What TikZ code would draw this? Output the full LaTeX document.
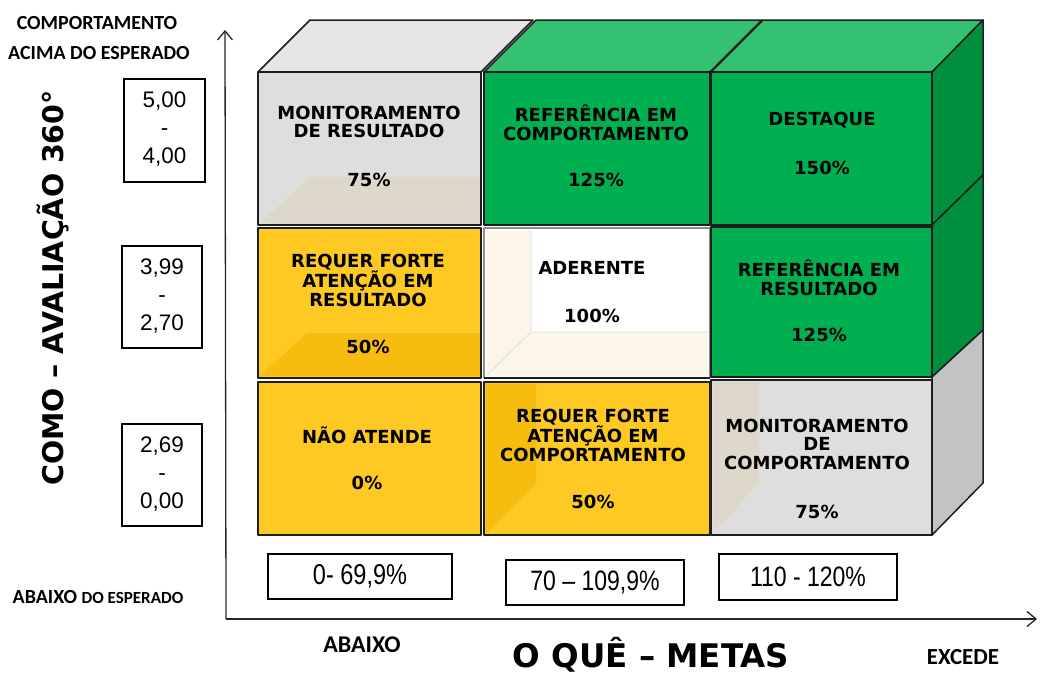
\documentclass[tikz,border=0pt]{standalone}
\usepackage{fontspec}
\setmainfont{DejaVu Sans}
\newfontfamily\dvs{DejaVu Sans}
\newfontfamily\crl{Carlito}
\newfontfamily\lib{Liberation Sans}
\usetikzlibrary{arrows.meta}
\definecolor{gfront}{HTML}{00B050}
\definecolor{gtop}{HTML}{35C172}
\definecolor{gside}{HTML}{008F3E}
\definecolor{yfront}{HTML}{FDC922}
\definecolor{yin}{HTML}{F7BD0E}
\definecolor{sfront}{HTML}{DEDEDE}
\definecolor{stop}{HTML}{E6E6E6}
\definecolor{sside}{HTML}{C2C2C2}
\definecolor{sin}{HTML}{DED8CB}
\definecolor{wfront}{HTML}{FFFFFF}
\definecolor{win}{HTML}{FBF5EA}
\definecolor{edgec}{HTML}{1E1E1E}
\begin{document}
\begin{tikzpicture}[x=1pt,y=-1pt,
  face/.style={draw=edgec, line width=1.5pt, line join=round},
  lightface/.style={draw=black!45, line width=1.4pt, line join=round},
  celltxt/.style={font=\dvs\bfseries\fontsize{18}{18.5}\selectfont, align=center, text=black, inner sep=0pt},
  boxnum/.style={draw=black, line width=1.1pt, inner sep=0pt},
  numtxt/.style={font=\lib\fontsize{22.5}{28}\selectfont, align=center, inner sep=0pt},
  axislbl/.style={font=\crl\bfseries\fontsize{20}{21}\selectfont, inner sep=0pt},
  axis/.style={draw=black!85, line width=1.3pt, -{Straight Barb[length=9pt,width=15pt]}}
]
\useasboundingbox (0,0) rectangle (1040,675);

% ---- top faces
\draw[face, fill=stop] (258,72) -- (310,20) -- (533,20) -- (481,72) -- cycle;
\draw[face, fill=gtop] (484,72) -- (536,20) -- (762,20) -- (710,72) -- cycle;
\draw[face, fill=gtop] (711,72) -- (763,20) -- (983,20) -- (932,72) -- cycle;
% ---- right faces
\draw[face, fill=gside] (932,72) -- (983,20) -- (983,175) -- (932,225) -- cycle;
\draw[face, fill=gside] (932,225) -- (983,175) -- (983,330) -- (932,377) -- cycle;
\draw[face, fill=sside] (932,377) -- (983,330) -- (983,483) -- (932,535) -- cycle;

% ---- row 1
\fill[sfront] (258,72) rectangle (481,225);
\fill[sin] (260,223) -- (310,177) -- (480,177) -- (480,223) -- cycle;
\draw[face] (258,72) rectangle (481,225);
\draw[face, fill=gfront] (484,72) rectangle (710,225);
\draw[face, fill=gfront] (711,72) rectangle (932,225);
% ---- row 2
\fill[yfront] (258,228) rectangle (481,378);
\fill[yin] (260,376) -- (307,333) -- (480,333) -- (480,376) -- cycle;
\draw[face] (258,228) rectangle (481,378);
\fill[wfront] (484,228) rectangle (710,378);
\fill[win] (486,230) -- (531,230) -- (531,332) -- (486,376) -- cycle;
\fill[win] (486,376) -- (531,332) -- (708,332) -- (708,376) -- cycle;
\draw[black!12, line width=0.8pt] (531,230) -- (531,332) -- (708,332) (531,332) -- (487,375);
\draw[lightface] (484,378) -- (484,228) -- (710,228) -- (710,378);
\draw[face] (484,378) -- (710,378);
\draw[face, fill=gfront] (711,227) rectangle (932,377);
% ---- row 3
\draw[face, fill=yfront] (258,382) rectangle (481,535);
\fill[yfront] (484,382) rectangle (710,535);
\fill[yin] (486,384) -- (536,384) -- (536,483) -- (486,533) -- cycle;
\draw[face] (484,382) rectangle (710,535);
\fill[sfront] (711,380) rectangle (932,535);
\fill[sin] (713,382) -- (759,382) -- (759,483) -- (713,533) -- cycle;
\draw[face] (711,380) rectangle (932,535);

% ---- cell texts
\node[celltxt] (c11) at (369,122) {MONITORAMENTO\\DE RESULTADO};
\node[celltxt] (p11) at (369,180) {75\%};
\node[celltxt] (c12) at (596,123) {REFERÊNCIA EM\\COMPORTAMENTO};
\node[celltxt] (p12) at (596,180) {125\%};
\node[celltxt] (c13) at (822,120) {DESTAQUE};
\node[celltxt] (p13) at (822,168) {150\%};
\node[celltxt] (c21) at (368,280) {REQUER FORTE\\ATENÇÃO EM\\RESULTADO};
\node[celltxt] (p21) at (368,347) {50\%};
\node[celltxt] (c22) at (592,268) {ADERENTE};
\node[celltxt] (p22) at (592,316) {100\%};
\node[celltxt] (c23) at (819,278) {REFERÊNCIA EM\\RESULTADO};
\node[celltxt] (p23) at (819,335) {125\%};
\node[celltxt] (c31) at (367,435) {NÃO ATENDE};
\node[celltxt] (p31) at (367,483) {0\%};
\node[celltxt] (c32) at (593,435) {REQUER FORTE\\ATENÇÃO EM\\COMPORTAMENTO};
\node[celltxt] (p32) at (593,502) {50\%};
\node[celltxt] (c33) at (817,444) {MONITORAMENTO\\DE\\COMPORTAMENTO};
\node[celltxt] (p33) at (817,512) {75\%};

% ---- axes
\coordinate (origin) at (226,619);
\coordinate (ytip) at (225,30);
\coordinate (xtip) at (1037,619);
\draw[axis] (origin) -- (ytip);
\draw[axis] (origin) -- (xtip);

% ---- left value boxes
\node[boxnum, minimum width=81pt, minimum height=103pt] (v1) at (164.5,130.5) {};
\node[numtxt] (t1) at (164.5,129) {5,00\\-\\4,00};
\node[boxnum, minimum width=80pt, minimum height=102pt] (v2) at (162,297) {};
\node[numtxt] (t2) at (162,296) {3,99\\-\\2,70};
\node[boxnum, minimum width=80pt, minimum height=102pt] (v3) at (162,475) {};
\node[numtxt] (t3) at (162,474) {2,69\\-\\0,00};

% ---- bottom value boxes
\node[boxnum, minimum width=184pt, minimum height=45pt] (b1) at (360,576.5) {\lib\fontsize{23.5}{26}\selectfont\scalebox{1}[1.22]{0- 69,9\%}};
\node[boxnum, minimum width=178pt, minimum height=45pt] (b2) at (595,582.5) {\lib\fontsize{23}{26}\selectfont\scalebox{1}[1.22]{70 – 109,9\%}};
\node[boxnum, minimum width=178pt, minimum height=46pt] (b3) at (808,577) {\lib\fontsize{23}{26}\selectfont\scalebox{1}[1.22]{110 - 120\%}};

% ---- axis labels
\node[axislbl] (l1) at (97,23) {COMPORTAMENTO};
\node[axislbl] (l2) at (99,53) {ACIMA DO ESPERADO};
\node[axislbl] (l3) at (98,597) {ABAIXO {\fontsize{17}{18}\selectfont DO ESPERADO}};
\node[font=\crl\bfseries\fontsize{24}{26}\selectfont, inner sep=0pt] (l4) at (362,645) {ABAIXO};
\node[font=\crl\bfseries\fontsize{23}{26}\selectfont, inner sep=0pt] (l5) at (963,657) {EXCEDE};
\node[font=\dvs\bfseries\fontsize{32.5}{34}\selectfont, inner sep=0pt] (l6) at (651,655) {O QUÊ – METAS};
\node[font=\dvs\bfseries\fontsize{28.5}{30}\selectfont, inner sep=0pt, rotate=90] (l7) at (53,288) {COMO – AVALIAÇÃO 360°};
\end{tikzpicture}
\end{document}
